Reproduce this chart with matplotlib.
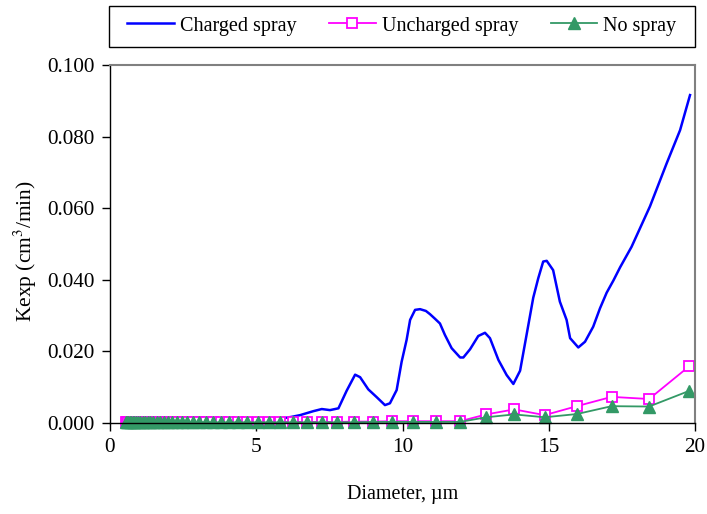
import matplotlib
matplotlib.use("Agg")
import matplotlib.pyplot as plt
from matplotlib.patches import Rectangle

plt.rcParams["font.family"] = ["Liberation Serif", "DejaVu Serif"]
plt.rcParams["font.size"] = 14.5
plt.rcParams["mathtext.fontset"] = "stix"

# APS channel midpoints (um)
diameter = [0.542, 0.583, 0.626, 0.673, 0.723, 0.777, 0.835, 0.898, 0.965, 1.037,
            1.114, 1.197, 1.286, 1.382, 1.486, 1.596, 1.715, 1.843, 1.981, 2.129,
            2.288, 2.458, 2.642, 2.839, 3.051, 3.278, 3.523, 3.786, 4.068, 4.371,
            4.698, 5.048, 5.425, 5.829, 6.264, 6.732, 7.234, 7.774, 8.354, 8.977,
            9.647, 10.37, 11.14, 11.97, 12.86, 13.82, 14.86, 15.96, 17.15, 18.43,
            19.81]

uncharged = [0.0003, 0.0003, 0.0003, 0.0003, 0.0003, 0.0003, 0.0003, 0.0003, 0.0003, 0.0003,
             0.0003, 0.0003, 0.0003, 0.0003, 0.0003, 0.0003, 0.0003, 0.0003, 0.0003, 0.0003,
             0.0003, 0.0003, 0.0003, 0.0003, 0.0003, 0.0003, 0.0003, 0.0003, 0.0003, 0.0003,
             0.0003, 0.0003, 0.0003, 0.0003, 0.0003, 0.0003, 0.0003, 0.0003, 0.0004, 0.0004,
             0.0005, 0.0005, 0.0005, 0.0005, 0.0024, 0.0038, 0.0022, 0.0047, 0.0073, 0.0067,
             0.0159]

no_spray = [0.0002, 0.0002, 0.0002, 0.0002, 0.0002, 0.0002, 0.0002, 0.0002, 0.0002, 0.0002,
            0.0002, 0.0002, 0.0002, 0.0002, 0.0002, 0.0002, 0.0002, 0.0002, 0.0002, 0.0002,
            0.0002, 0.0002, 0.0002, 0.0002, 0.0002, 0.0002, 0.0002, 0.0002, 0.0002, 0.0002,
            0.0002, 0.0002, 0.0002, 0.0002, 0.0002, 0.0002, 0.0002, 0.0002, 0.0002, 0.0003,
            0.0003, 0.0003, 0.0003, 0.0003, 0.0016, 0.0024, 0.0016, 0.0025, 0.0047, 0.0046,
            0.0090]

# charged spray is recorded at finer resolution
charged_d = [0.54, 2.0, 4.0, 5.0, 5.5, 5.81, 6.2, 6.5, 6.95, 7.24,
             7.52, 7.81, 8.09, 8.38, 8.55, 8.83, 9.12, 9.40, 9.57, 9.80,
             9.97, 10.14, 10.26, 10.43, 10.60, 10.80, 10.94, 11.10, 11.28, 11.45,
             11.68, 11.97, 12.08, 12.31, 12.59, 12.82, 12.99, 13.28, 13.56, 13.79,
             14.02, 14.25, 14.47, 14.64, 14.81, 14.93, 15.15, 15.38, 15.61, 15.73,
             16.01, 16.24, 16.52, 16.75, 16.98, 17.21, 17.44, 17.83, 18.46, 19.03,
             19.49, 19.83]
charged_k = [0.0, 0.0, 0.0001, 0.0003, 0.0007, 0.0012, 0.0017, 0.0022, 0.0033, 0.0039,
             0.0036, 0.0041, 0.0090, 0.0135, 0.0128, 0.0094, 0.0072, 0.0050, 0.0055, 0.0092,
             0.0171, 0.0232, 0.0288, 0.0316, 0.0318, 0.0313, 0.0304, 0.0292, 0.0278, 0.0246,
             0.0209, 0.0183, 0.0183, 0.0206, 0.0243, 0.0252, 0.0237, 0.0176, 0.0134, 0.0109,
             0.0146, 0.0250, 0.0350, 0.0404, 0.0451, 0.0453, 0.0427, 0.0339, 0.0288, 0.0237,
             0.0211, 0.0227, 0.0269, 0.0320, 0.0364, 0.0398, 0.0435, 0.0492, 0.0605, 0.0725,
             0.0818, 0.0916]

fig = plt.figure(figsize=(7.07, 5.14), dpi=100)
ax = fig.add_axes([110 / 707, 1 - 423 / 514, 585 / 707, 358 / 514])

ax.plot(charged_d, charged_k, color="#0000FF", lw=1.8, label="Charged spray")
ax.plot(diameter, uncharged, color="#FF00FF", lw=1.3, marker="s", ms=7,
        mfc="white", mec="#FF00FF", mew=1.3, clip_on=False, label="Uncharged spray")
ax.plot(diameter, no_spray, color="#339966", lw=1.3, marker="^", ms=8.5,
        mfc="#339966", mec="#339966", clip_on=False, label="No spray")

ax.set_xlim(0, 20)
ax.set_ylim(0, 0.1)
ax.set_xticks([0, 5, 10, 15, 20])
ax.set_yticks([0, 0.02, 0.04, 0.06, 0.08, 0.1])
ax.yaxis.set_major_formatter(matplotlib.ticker.FormatStrFormatter("%.3f"))
ax.tick_params(direction="out", length=6, width=1, pad=5, labelsize=15.3)

for side in ("left", "bottom"):
    ax.spines[side].set_color("black")
    ax.spines[side].set_linewidth(1.0)
for side in ("top", "right"):
    ax.spines[side].set_color("#808080")
    ax.spines[side].set_linewidth(1.5)

ax.set_xlabel("Diameter, µm", labelpad=20)
ax.set_ylabel("Kexp (cm$^3$/min)", fontsize=15.5)
ax.yaxis.set_label_coords(-0.121, 0.48)

# legend box spans the plot width above the axes
fig.patches.append(Rectangle((108.5 / 707, 1 - 46.5 / 514), 586.5 / 707, 40.5 / 514,
                             transform=fig.transFigure, fill=False,
                             edgecolor="black", lw=1.0))
fig.legend(loc="center left", ncol=3, frameon=False, borderpad=0, borderaxespad=0,
           handlelength=2.33, handletextpad=0.3, columnspacing=1.6,
           bbox_to_anchor=(127 / 707, 1 - 26 / 514))

fig.savefig("out.png", dpi=100)
